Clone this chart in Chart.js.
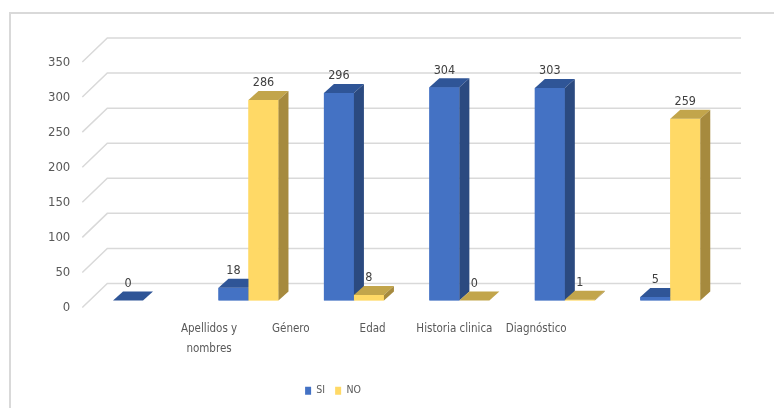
<!DOCTYPE html>
<html><head><meta charset="utf-8">
<script src="https://cdn.jsdelivr.net/npm/chart.js@4/dist/chart.umd.min.js"></script>
<style>html,body{margin:0;padding:0;background:#fff}#wrap{position:relative;width:774px;height:408px}</style>
</head><body><div id="wrap"><canvas id="c" width="774" height="408"></canvas></div>
<script>
const categories = ['', ['Apellidos y', 'nombres'], 'Género', 'Edad', 'Historia clinica', 'Diagnóstico'];
const seriesNames = ['SI', 'NO'];
const siValues = [0, 18, 296, 304, 303, 5];
const noValues = [null, 286, 8, 0, 1, 259];
const yTicks = [0, 50, 100, 150, 200, 250, 300, 350];

const FONT = "'DejaVu Sans Condensed', 'Liberation Sans Narrow', 'Liberation Sans', sans-serif";
const TEXT = '#595959';
const faces = [
  {front: '#4472C4', top: '#2F5597', side: '#2B4A80'},
  {front: '#FFD966', top: '#C2A54B', side: '#A68A3E'}
];
const DX = 10, DY = 9;

const threeD = {
  id: 'threeD',
  beforeDraw(chart) {
    const ctx = chart.ctx;
    ctx.save();
    ctx.strokeStyle = '#D9D9D9';
    ctx.lineWidth = 2;
    ctx.beginPath();
    ctx.moveTo(10, 408); ctx.lineTo(10, 13); ctx.lineTo(774, 13);
    ctx.stroke();
    ctx.restore();
  },
  beforeDatasetsDraw(chart) {
    const {ctx, chartArea} = chart;
    const ys = chart.scales.y;
    ctx.save();
    ctx.strokeStyle = '#D9D9D9';
    ctx.lineWidth = 1.5;
    yTicks.forEach(v => {
      const p = ys.getPixelForValue(v);
      const yb = p - 17, yf = p + 7;
      ctx.beginPath();
      ctx.moveTo(chartArea.left - 8, yf);
      ctx.lineTo(chartArea.left + 17, yb);
      ctx.lineTo(chartArea.right + 18, yb);
      ctx.stroke();
    });
    ctx.restore();
  },
  afterDatasetsDraw(chart) {
    const ctx = chart.ctx;
    const metas = chart.data.datasets.map((ds, di) => chart.getDatasetMeta(di));
    ctx.save();
    for (let i = 0; i < chart.data.labels.length; i++) {
      chart.data.datasets.forEach((ds, di) => {
        const v = ds.data[i];
        if (v === null || v === undefined) return;
        const el = metas[di].data[i];
        const {x, y, base, width} = el.getProps(['x', 'y', 'base', 'width'], true);
        const l = x - width / 2, r = x + width / 2;
        const f = faces[di];
        ctx.fillStyle = f.front;
        ctx.fillRect(l, y, width, base - y);
        ctx.fillStyle = f.top;
        ctx.beginPath();
        ctx.moveTo(l, y); ctx.lineTo(l + DX, y - DY); ctx.lineTo(r + DX, y - DY); ctx.lineTo(r, y);
        ctx.closePath(); ctx.fill();
        if (base - y > 0.5) {
          ctx.fillStyle = f.side;
          ctx.beginPath();
          ctx.moveTo(r, y); ctx.lineTo(r + DX, y - DY); ctx.lineTo(r + DX, base - DY); ctx.lineTo(r, base);
          ctx.closePath(); ctx.fill();
        }
      });
    }
    ctx.fillStyle = '#404040';
    ctx.font = "12.5px " + FONT;
    ctx.textAlign = 'center';
    ctx.textBaseline = 'middle';
    chart.data.datasets.forEach((ds, di) => {
      metas[di].data.forEach((el, i) => {
        const v = ds.data[i];
        if (v === null || v === undefined) return;
        ctx.fillText(String(v), el.x, el.y - 17);
      });
    });
    ctx.restore();
  },
  afterLayout(chart) {
    const lg = chart.legend;
    if (!lg) return;
    const dx = 333 - (lg.left + lg.right) / 2;
    lg.left += dx; lg.right += dx;
  }
};

new Chart(document.getElementById('c'), {
  type: 'bar',
  data: {
    labels: categories.map(c => Array.isArray(c) ? c.join(' ') : c),
    datasets: [
      {label: seriesNames[0], data: siValues, backgroundColor: faces[0].front},
      {label: seriesNames[1], data: noValues, backgroundColor: faces[1].front}
    ]
  },
  options: {
    responsive: false,
    animation: false,
    devicePixelRatio: 1,
    layout: {padding: {left: 0, right: 51, top: 55, bottom: 2}},
    datasets: {bar: {barPercentage: 1, categoryPercentage: 0.569, borderWidth: 0}},
    scales: {
      x: {display: false, offset: true},
      y: {display: false, min: 0, max: 350},
      x2: {
        axis: 'x', type: 'linear', position: 'bottom', offset: false,
        min: -0.452, max: 7.284, bounds: 'data',
        grid: {display: false, drawTicks: false, offset: false}, border: {display: false},
        afterBuildTicks: s => { s.ticks = categories.map((c, i) => ({value: i})); },
        afterFit: s => { s.height = 75; },
        ticks: {
          autoSkip: false, maxRotation: 0, padding: 19, color: TEXT,
          font: {family: FONT, size: 11.5, lineHeight: 1.74},
          callback: v => categories[v]
        }
      },
      y2: {
        axis: 'y', type: 'linear', position: 'left', offset: false, beginAtZero: false,
        min: 10.76, max: 360.76, bounds: 'data',
        grid: {display: false, drawTicks: false}, border: {display: false},
        afterBuildTicks: s => { s.ticks = yTicks.map(v => ({value: v})); },
        afterFit: s => { s.width = 90.3; },
        ticks: {padding: 20, color: TEXT, font: {family: FONT, size: 13}, callback: v => String(v)}
      }
    },
    plugins: {
      tooltip: {enabled: false},
      legend: {
        position: 'bottom',
        labels: {
          boxWidth: 6, boxHeight: 8, padding: 10, color: TEXT,
          font: {family: FONT, size: 10.5}
        }
      }
    }
  },
  plugins: [threeD]
});
</script></body></html>
